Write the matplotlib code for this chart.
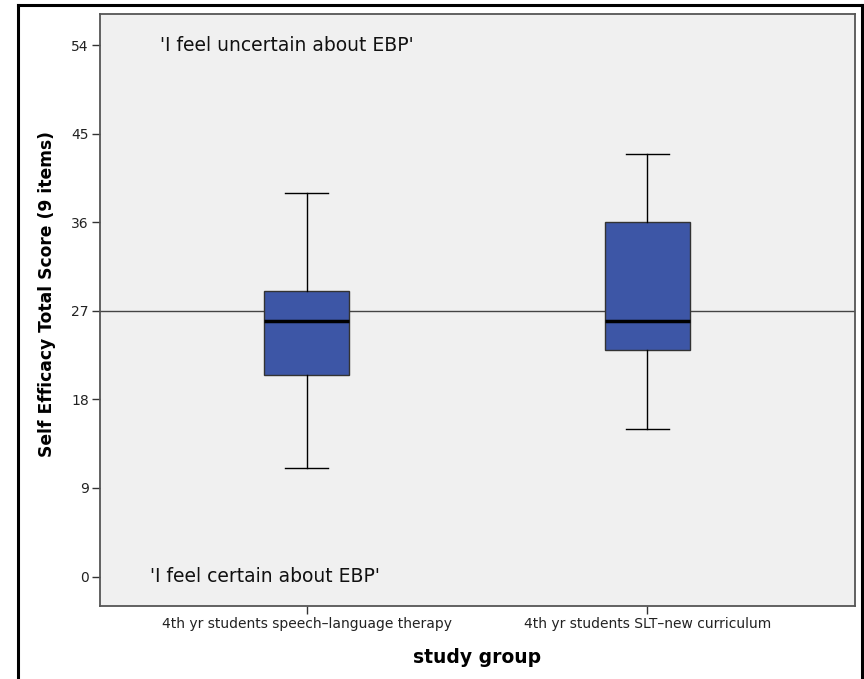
import matplotlib.pyplot as plt
from matplotlib.lines import Line2D

groups = ["4th yr students speech\u2013language therapy", "4th yr students SLT\u2013new curriculum"]
whisker_low = [11, 15]
q1 = [20.5, 23]
median = [26, 26]
q3 = [29, 36]
whisker_high = [39, 43]
ref_line = 27
y_ticks = [0, 9, 18, 27, 36, 45, 54]

fig = plt.figure(figsize=(8.64, 6.79), dpi=100)
ax = fig.add_axes([0.1157, 0.1075, 0.8739, 0.8719])
ax.set_facecolor("#f0f0f0")

stats = []
for i, g in enumerate(groups):
    stats.append({
        "label": g,
        "whislo": whisker_low[i],
        "q1": q1[i],
        "med": median[i],
        "q3": q3[i],
        "whishi": whisker_high[i],
        "fliers": [],
    })

ax.axhline(ref_line, color="#444444", lw=1.0, zorder=1)

ax.bxp(
    stats,
    positions=[1, 2],
    widths=0.25,
    capwidths=0.125,
    patch_artist=True,
    showfliers=False,
    boxprops=dict(facecolor="#3d56a6", edgecolor="#333333", lw=1.0),
    medianprops=dict(color="black", lw=2.5),
    whiskerprops=dict(color="black", lw=1.0),
    capprops=dict(color="black", lw=1.0),
    zorder=2,
)

ax.set_xlim(0.393, 2.61)
ax.set_ylim(-3, 57.2)
ax.set_yticks(y_ticks)
ax.set_yticklabels([str(v) for v in y_ticks], fontsize=10, color="#222222")
ax.set_xticks([1, 2])
ax.set_xticklabels(groups, fontsize=10, color="#222222")
ax.tick_params(axis="both", direction="out", length=6, width=1, color="#333333", pad=2)

for s in ax.spines.values():
    s.set_color("#555555")
    s.set_linewidth(1.3)

ax.text(0.57, 54, "'I feel uncertain about EBP'", fontsize=13.5, va="center", ha="left", color="#111111")
ax.text(0.54, 0, "'I feel certain about EBP'", fontsize=13.5, va="center", ha="left", color="#111111")

ax.set_xlabel("study group", fontsize=13.5, fontweight="bold", labelpad=12)
ax.set_ylabel("Self Efficacy Total Score (9 items)", fontsize=12.3, fontweight="bold")
ax.yaxis.set_label_coords(-0.058, 0.527)

# outer frame
fx0, fx1, fy1 = 18 / 864, 862 / 864, 1 - 5 / 679
for xs, ys in [([fx0, fx0], [0, fy1]), ([fx0, fx1], [fy1, fy1]), ([fx1, fx1], [fy1, 0])]:
    fig.add_artist(Line2D(xs, ys, color="black", lw=2.2, transform=fig.transFigure))

fig.savefig("out.png", dpi=100)
